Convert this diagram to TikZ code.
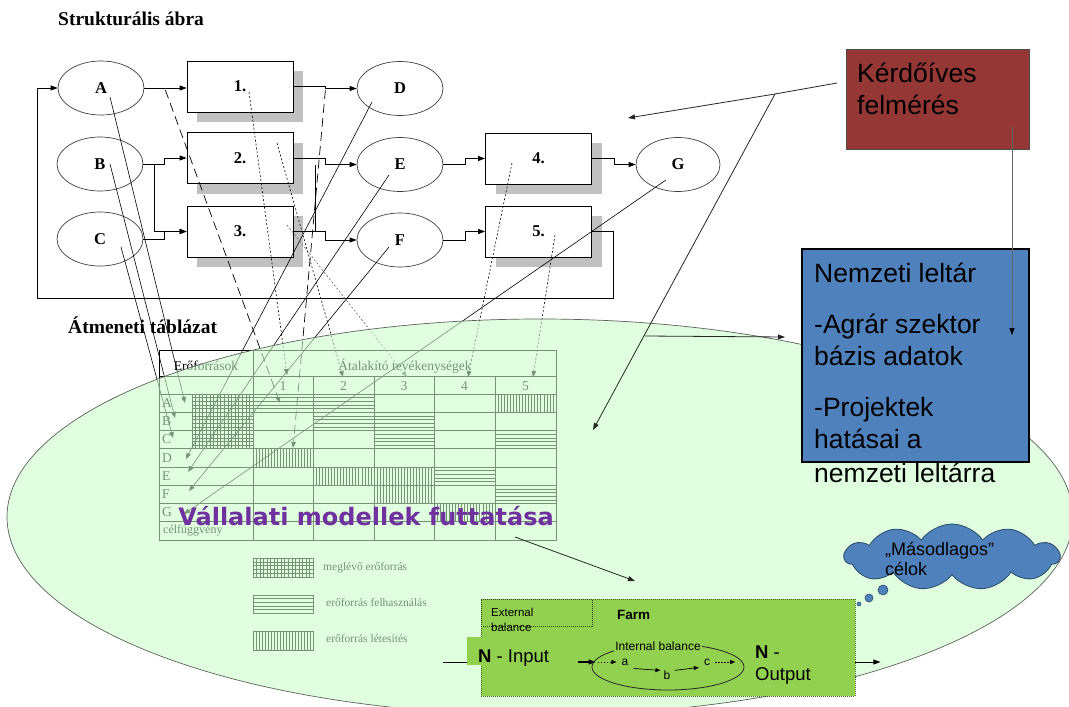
\documentclass[tikz,border=0pt]{standalone}
\usepackage{fontspec}
\setmainfont{Liberation Serif}
\newfontfamily\arialf{Liberation Sans}
\newfontfamily\dejaf{DejaVu Sans}
\usetikzlibrary{arrows.meta,shapes.geometric,shapes.symbols,calc}
\definecolor{shadowgray}{RGB}{192,192,192}
\definecolor{ellfill}{RGB}{201,255,201}
\definecolor{ellborder}{RGB}{95,95,95}
\definecolor{qred}{RGB}{149,55,53}
\definecolor{qblue}{RGB}{79,129,189}
\definecolor{farmgreen}{RGB}{146,208,80}
\definecolor{farmedge}{RGB}{70,100,40}
\definecolor{vpurple}{RGB}{112,48,160}
\newcommand\fsz[1]{\fontsize{#1}{#1}\selectfont}
\newcommand\hhatch[5]{\foreach \k in {1,...,#5}{\draw[hatchln] (#1,{#2+\k*(#4-#2)/(#5+1)}) -- (#3,{#2+\k*(#4-#2)/(#5+1)});}}
\newcommand\vhatch[5]{\foreach \k in {1,...,#5}{\draw[hatchln] ({#1+\k*(#3-#1)/(#5+1)},#2) -- ({#1+\k*(#3-#1)/(#5+1)},#4);}}
\tikzset{
  arr/.style={-{Triangle[length=7pt,width=5pt]}},
  sarr/.style={-{Triangle[length=6pt,width=4.5pt]}},
  conn/.style={line width=0.8pt, arr},
  stel/.style={ellipse, draw=black!75, line width=0.7pt, minimum width=86pt, minimum height=54pt, inner sep=0pt, font=\bfseries\fsz{16.5}},
  stbox/.style={rectangle, draw=black, line width=0.8pt, fill=white, minimum width=106pt, minimum height=51pt, inner sep=0pt, font=\bfseries\fsz{16.5}, preaction={fill=shadowgray, transform canvas={shift={(10pt,-10pt)}}}},
  tbl/.style={line width=0.9pt, black},
  hatchln/.style={line width=0.55pt, black},
  ttxt/.style={inner sep=0pt, font=\fsz{13.5}, text=black},
  maps/.style={line width=0.6pt, sarr},
  mapd/.style={line width=0.7pt, sarr, dash pattern=on 9pt off 5pt},
  mapp/.style={line width=0.6pt, sarr, dash pattern=on 2pt off 2pt},
  btxt/.style={inner sep=0pt, anchor=base west, font=\arialf\fsz{26.5}},
  ftxt/.style={inner sep=0pt, anchor=base west, font=\arialf\fsz{18.5}},
  stxt/.style={inner sep=0pt, anchor=base west, font=\arialf\fsz{11.5}},
}
\begin{document}
\begin{tikzpicture}[x=1pt,y=-1pt]
\path[use as bounding box] (0,0) rectangle (1069,707);
\clip (0,0) rectangle (1069,707);
\fill[white] (0,0) rectangle (1069,707);

% ---------- titles
\node[inner sep=0pt, anchor=base west, font=\bfseries\fsz{19.5}] (t1) at (58,25) {Strukturális ábra};
\node[inner sep=0pt, anchor=base west, font=\bfseries\fsz{19.5}] (t2) at (68,333) {Átmeneti táblázat};

% ---------- structural diagram
\node[stel] (A) at (101,88) {A};
\node[stel] (B) at (100,164) {B};
\node[stel] (C) at (100,239) {C};
\node[stbox] (b1) at (240,86.5) {1.};
\node[stbox] (b2) at (240,158) {2.};
\node[stbox] (b3) at (240,231.5) {3.};
\node[stel] (D) at (400,88.5) {D};
\node[stel] (E) at (400,164.5) {E};
\node[stel] (F) at (400,240) {F};
\node[stbox] (b4) at (538.5,158.5) {4.};
\node[stbox] (b5) at (538.5,231.5) {5.};
\node[stel, minimum width=84pt] (G) at (678,164.5) {G};

\draw[conn] (A.east) -- (A.east -| b1.west);
\draw[conn] (B.east) -- ++(21,0) |- (b2.west);
\draw[conn] (B.east) ++(11,0) |- (b3.west);
\draw[conn] (C.east) -- ++(21,0) |- (b3.west);
\draw[conn] (b1.east) -- ++(32,0) |- (D.west);
\draw[conn] (b2.east) -- ++(32,0) |- (E.west);
\draw[conn] (b3.east) -- ++(32,0) |- (F.west);
\coordinate (j2) at ($(b2.east)+(22,0)$);
\draw[line width=0.8pt] (j2 |- E.west) -- (j2 |- b3.east);
\draw[conn] (E.east) -- ++(22,0) |- (b4.west);
\draw[conn] (F.east) -- ++(22,0) |- (b5.west);
\draw[conn] (b4.east) -- ++(22,0) |- (G.west);
\coordinate (fbR) at (613,298);
\coordinate (fbL) at (37,298);
\draw[conn] (b5.east) -| (fbR) -- (fbL) |- (A.west);

% ---------- transition table
\draw[tbl] (159,350) rectangle (556,540);
\foreach \yy in {376,394,412.25,430.5,448.75,467,485.25,503.5,521.75}{\draw[tbl] (159,\yy) -- (556,\yy);}
\draw[tbl] (253,350) -- (253,540);
\foreach \xx in {313,374,434,495}{\draw[tbl] (\xx,376) -- (\xx,540);}
% existing resources (grid)
\draw[hatchln] (192,394) rectangle (253,448.75);
\vhatch{192}{394}{253}{448.75}{16}
\hhatch{192}{394}{253}{448.75}{14}
% use (horizontal)
\hhatch{253}{394}{313}{412.25}{4}
\hhatch{313}{394}{374}{412.25}{4}
\hhatch{313}{412.25}{374}{430.5}{4}
\hhatch{374}{412.25}{434}{430.5}{4}
\hhatch{374}{430.5}{434}{448.75}{4}
\hhatch{495}{430.5}{556}{448.75}{4}
\hhatch{434}{467}{495}{485.25}{4}
\hhatch{495}{485.25}{556}{503.5}{4}
% creation (vertical)
\vhatch{495}{394}{556}{412.25}{19}
\vhatch{253}{448.75}{313}{467}{19}
\vhatch{313}{467}{374}{485.25}{19}
\vhatch{374}{467}{434}{485.25}{19}
\vhatch{374}{485.25}{434}{503.5}{19}
\vhatch{434}{503.5}{495}{521.75}{19}

\node[ttxt] (tEr) at (206,366) {Erőforrások};
\node[ttxt] (tAt) at (405,366) {Átalakító tevékenységek};
\foreach \xx/\nn in {283/1,343.5/2,404/3,464.5/4,525.5/5}{\node[ttxt] (n\nn) at (\xx,386) {\nn};}
\foreach \nm/\yy in {A/403,B/421.5,C/439.5,D/458,E/476,F/494.5,G/512.5}{\node[ttxt, anchor=west] (r\nm) at (162,\yy) {\nm};}
\node[ttxt, anchor=west, font=\fsz{12}] (rcel) at (163,531) {célfüggvény};

% legend
\draw[hatchln] (253,558) rectangle (313,577);
\vhatch{253}{558}{313}{577}{16}
\hhatch{253}{558}{313}{577}{4}
\draw[hatchln] (253,595) rectangle (313,613);
\hhatch{253}{595}{313}{613}{4}
\draw[hatchln] (253,631) rectangle (313,650);
\vhatch{253}{631}{313}{650}{19}
\node[ttxt, anchor=west, font=\fsz{11.5}] (lg1) at (323,568) {meglévő erőforrás};
\node[ttxt, anchor=west, font=\fsz{11.5}] (lg2) at (326,603) {erőforrás felhasználás};
\node[ttxt, anchor=west, font=\fsz{11.5}] (lg3) at (326,639) {erőforrás létesítés};

% ---------- mapping lines
\coordinate (tgA) at (185,403);
\coordinate (tgB) at (175,418);
\coordinate (tgC) at (173,438);
\coordinate (tgD) at (186,459);
\coordinate (tgE) at (188,472);
\coordinate (tgF) at (189,491);
\coordinate (tgG) at (184,514);
\coordinate (tgA1) at (280,403);
\coordinate (tgD1) at (293,448);
\coordinate (h1) at (287,375);
\coordinate (h2) at (343,377);
\coordinate (h3) at (407,377);
\coordinate (h4) at (468,377);
\coordinate (h5) at (533,377);
\draw[maps] ($(A)+(9,9)$) -- (tgA);
\draw[maps] ($(B)+(10,0)$) -- (tgB);
\draw[maps] ($(C)+(21,8)$) -- (tgC);
\draw[maps] ($(D)+(-28,13.5)$) -- (tgD);
\draw[maps] ($(E)+(-11,10.5)$) -- (tgE);
\draw[maps] ($(F)+(-11,7)$) -- (tgF);
\draw[maps] ($(G)+(-12,15.5)$) -- (tgG);
\draw[mapd] ($(A.east)+(21,2)$) -- (tgA1);
\draw[mapd] ($(b1.east)+(32,3.5)$) -- (tgD1);
\draw[mapp] ($(b1)+(9,5.5)$) -- (h1);
\draw[mapp] ($(b2)+(37,-15)$) -- (h2);
\draw[mapp, black!60] ($(b3)+(47,-6.5)$) -- (h3);
\draw[mapp] ($(b4)+(-26.5,4.5)$) -- (h4);
\draw[mapp] ($(b5)+(16.5,3.5)$) -- (h5);

% ---------- translucent ellipse
\fill[ellfill, fill opacity=0.58] (540,517) ellipse [x radius=533, y radius=198];
\draw[ellborder, line width=0.7pt] (540,517) ellipse [x radius=533, y radius=198];

% ---------- company models
\node[inner sep=0pt, anchor=base, font=\dejaf\bfseries\fsz{24}, text=vpurple] (vm) at (366,525) {Vállalati modellek futtatása};
\coordinate (vmS) at (515,537);
\coordinate (vmE) at (635,581);
\draw[conn, black!85] (vmS) -- (vmE);

% ---------- farm box
\node[rectangle, fill=farmgreen, draw=farmedge, dash pattern=on 1pt off 1pt, line width=0.8pt, minimum width=374pt, minimum height=97pt, inner sep=0pt] (farm) at (668,647.5) {};
\node[rectangle, draw=farmedge!70!black, dash pattern=on 1pt off 1pt, line width=0.8pt, minimum width=111pt, minimum height=27pt, inner sep=0pt, anchor=north west] (ext) at (farm.north west) {};
\node[stxt] (ex1) at (491,616) {External};
\node[stxt] (ex2) at (491,631) {balance};
\node[inner sep=0pt, anchor=base west, font=\arialf\bfseries\fsz{13.5}] (fm) at (617,619) {Farm};
\fill[farmgreen] (467,637) rectangle (561,665);
\node[ftxt] (nin) at (478,662) {\textbf{N} - Input};
\coordinate (inS) at (443,662);
\draw[line width=0.8pt] (inS) -- (467,662);
\node[ellipse, draw=black!85, line width=0.8pt, minimum width=152pt, minimum height=46pt, inner sep=0pt] (ib) at (668,667) {};
\node[inner sep=1pt, fill=farmgreen, anchor=base, font=\arialf\fsz{12}] (ibt) at (658,650) {Internal balance};
\draw[conn, line width=1.1pt] ($(ib.west)+(-14,-5)$) -- ($(ib.west)+(4,-5)$);
\node[inner sep=0pt, font=\arialf\fsz{12}] (na) at (625,662) {a};
\node[inner sep=0pt, font=\arialf\fsz{12}] (nb) at (667,675) {b};
\node[inner sep=0pt, font=\arialf\fsz{12}] (nc) at (707,662) {c};
\draw[line width=0.6pt, dash pattern=on 1.5pt off 1.5pt, -{Triangle[length=5pt,width=4pt]}] ($(ib.west)+(6,-5)$) -- ($(na.west)+(-5,0)$);
\draw[line width=0.7pt, -{Triangle[length=5pt,width=4pt]}] ($(na.south east)+(5,3)$) -- ($(nb.north west)+(-3,0)$);
\draw[line width=0.7pt, -{Triangle[length=5pt,width=4pt]}] ($(nb.north east)+(4,0)$) -- ($(nc.south west)+(-5,2)$);
\draw[line width=0.6pt, dash pattern=on 1.5pt off 1.5pt, -{Triangle[length=5pt,width=4pt]}] ($(nc.east)+(5,0)$) -- ($(nc.east)+(25,0)$);
\node[ftxt] (no1) at (755,658) {\textbf{N} -};
\node[ftxt] (no2) at (755,680) {Output};
\draw[conn] ($(farm.east)+(0,14.5)$) -- ++(25,0);

% ---------- cloud
\node[cloud, cloud puffs=11, cloud puff arc=110, aspect=3.2, draw=qblue!55!black, fill=qblue, line width=0.8pt, minimum width=215pt, minimum height=66pt, inner sep=0pt] (cl) at (952,557) {};
\node[inner sep=0pt, anchor=base west, font=\arialf\fsz{18}] (cl1) at (885,555) {„Másodlagos”};
\node[inner sep=0pt, anchor=base west, font=\arialf\fsz{18}] (cl2) at (885,575) {célok};
\node[circle, fill=qblue, draw=qblue!55!black, line width=0.6pt, minimum size=10pt, inner sep=0pt] (bu1) at (883,590) {};
\node[circle, fill=qblue, draw=qblue!55!black, line width=0.6pt, minimum size=8pt, inner sep=0pt] (bu2) at (869,598) {};
\node[circle, fill=qblue, draw=qblue!55!black, line width=0.5pt, minimum size=4pt, inner sep=0pt] (bu3) at (859,604) {};

% ---------- questionnaire + national inventory
\node[rectangle, fill=qred, draw=black!70, line width=0.8pt, minimum width=183pt, minimum height=100pt, inner sep=0pt] (kf) at (937.5,99) {};
\node[btxt] (kf1) at (857,82) {Kérdőíves};
\node[btxt] (kf2) at (857,114) {felmérés};
\coordinate (ks) at (837,83);
\coordinate (kj) at (775,94);
\coordinate (ka) at (628,118);
\coordinate (kb) at (593,430);
\draw[conn, black!85] (ks) -- (kj) -- (ka);
\draw[conn, black!85] (kj) -- (kb);

\node[rectangle, fill=qblue, draw=black, line width=1.5pt, minimum width=227pt, minimum height=213pt, inner sep=0pt] (nl) at (915.5,355.5) {};
\node[btxt] (nl1) at (814,282) {Nemzeti leltár};
\node[btxt] (nl2) at (814,333) {-Agrár szektor};
\node[btxt] (nl3) at (814,365) {bázis adatok};
\node[btxt] (nl4) at (814,416) {-Projektek};
\node[btxt] (nl5) at (814,448) {hatásai a};
\node[btxt] (nl6) at (814,482) {nemzeti leltárra};
\coordinate (kv1) at (1012,127);
\coordinate (kv2) at (1012,335);
\draw[line width=0.8pt, black!60] (kv1) -- (kv2);
\draw[conn] ($(kv2)+(0,-2)$) -- (kv2);
\coordinate (hA) at (645,336);
\coordinate (hB) at (785,337);
\draw[conn, black!85] (hA) -- (hB);
\end{tikzpicture}
\end{document}
